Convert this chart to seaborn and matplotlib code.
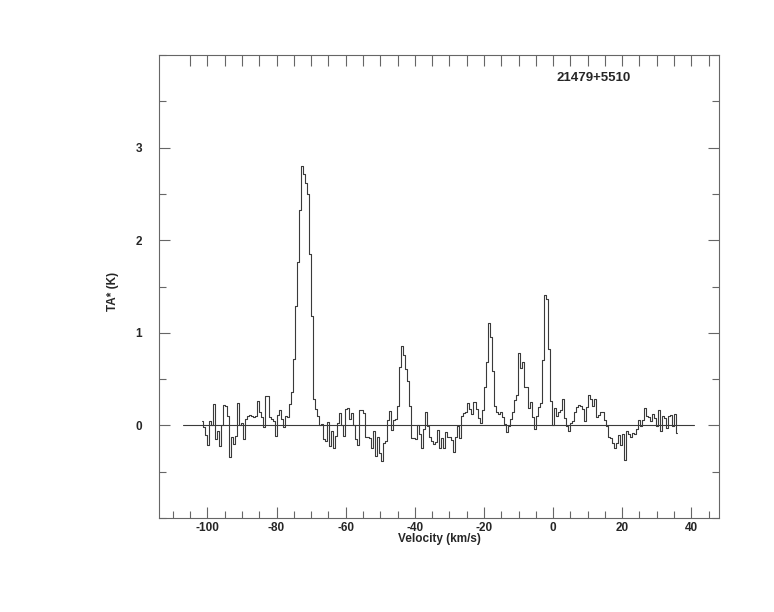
import numpy as np
import pandas as pd
import matplotlib
matplotlib.use("Agg")
import matplotlib.pyplot as plt
import seaborn as sns
from matplotlib.ticker import MultipleLocator

# ---- data ----
v_start = -101.61      # first channel centre (km/s)
dv = 0.58              # channel width (km/s)

ta_seg1 = [0.05, -0.02, -0.10, -0.21, 0.05, 0.00, 0.23, -0.15, -0.06, -0.22,
           0.00, 0.22, 0.21, 0.10, -0.34, -0.12, -0.20, -0.11, 0.24, 0.00,
           0.03, -0.15, 0.07, 0.10, 0.11, 0.10, 0.09, 0.10, 0.26, 0.14,
           0.09, -0.02, 0.32, 0.32, 0.09, 0.07, 0.05, -0.11, 0.11, 0.17,
           0.07, -0.02, 0.10, 0.09, 0.23, 0.36, 0.72, 1.29, 1.76, 2.33,
           2.80, 2.71, 2.62, 2.50, 1.85, 1.18, 0.28, 0.18, 0.10, 0.00,
           0.01, -0.15, -0.17, 0.04, -0.22, -0.06, -0.24, -0.11, 0.03, 0.13,
           0.00, -0.11, 0.18, 0.19, 0.07, 0.13, 0.00, -0.15]
ta_seg2 = [-0.21, 0.17, 0.17, 0.13, -0.12, -0.13, -0.14, -0.24, -0.06, -0.33,
           -0.12, -0.30, -0.38, -0.19, -0.17, 0.06, 0.16, -0.05, 0.06, 0.07,
           0.21, 0.63, 0.86, 0.76, 0.61, 0.48, 0.21, -0.14, -0.14, -0.15,
           0.00, -0.09, -0.24, -0.04, 0.15, -0.01, -0.12, -0.17, -0.20, -0.18,
           -0.05, -0.24, -0.14, -0.24, -0.07, -0.12, -0.12, -0.16, -0.29, -0.12,
           -0.01, -0.14, 0.10, 0.13, 0.14, 0.24, 0.18, 0.12, 0.25, 0.18,
           0.08, 0.03, 0.17, 0.41, 0.69, 1.11, 0.95, 0.59, 0.21, 0.15,
           0.12, 0.14, 0.09, 0.02, -0.07, -0.01, 0.07, 0.14, 0.27, 0.33]
ta_seg3 = [0.78, 0.62, 0.68, 0.42, 0.42, 0.19, 0.25, 0.09, -0.04, 0.10,
           0.20, 0.24, 0.71, 1.41, 1.36, 0.83, 0.26, 0.00, 0.19, 0.10,
           0.14, 0.17, 0.29, 0.08, -0.01, -0.06, 0.03, 0.05, 0.14, 0.20,
           0.22, 0.21, 0.18, 0.05, 0.20, 0.33, 0.28, 0.21, 0.29, 0.09,
           0.11, 0.15, 0.15, 0.06, -0.01, -0.13, -0.14, -0.19, -0.24, -0.19,
           -0.10, -0.21, -0.09, -0.37, -0.06, -0.09, -0.12, -0.08, -0.09, -0.04,
           0.06, -0.01, 0.06, 0.19, 0.10, 0.09, 0.05, 0.12, 0.08, -0.01,
           0.17, -0.06, 0.10, 0.08, -0.03, 0.10, 0.11, -0.01, 0.12, -0.08]

ta = np.array(ta_seg1 + ta_seg2 + ta_seg3)
velocity = v_start + dv * np.arange(len(ta))

baseline_x = [-107.0, 40.8]
baseline_y = [0.0, 0.0]
source_name = "21479+5510"

df = pd.DataFrame({"velocity": velocity, "ta": ta})

# ---- plot ----
sns.set_style("white")
plt.rcParams["font.family"] = ["Liberation Sans", "DejaVu Sans"]
plt.rcParams["axes.unicode_minus"] = False

fig = plt.figure(figsize=(7.74, 6.12), dpi=100)
ax = fig.add_axes([159 / 774, 94 / 612, 560 / 774, 463 / 612])

sns.lineplot(data=df, x="velocity", y="ta", ax=ax, drawstyle="steps-mid",
             color="#3a3a3a", linewidth=0.8, sort=True, estimator=None)
ax.plot(baseline_x, baseline_y, color="#3a3a3a", linewidth=0.8)

ax.set_xlim(-114, 48)
ax.set_ylim(-1, 4)

ax.xaxis.set_major_locator(MultipleLocator(20))
ax.xaxis.set_minor_locator(MultipleLocator(5))
ax.yaxis.set_major_locator(MultipleLocator(1))
ax.yaxis.set_minor_locator(MultipleLocator(0.5))
ax.set_yticks([0, 1, 2, 3])

ax.tick_params(axis="both", which="both", direction="in", color="#666666",
               width=0.8)
ax.tick_params(axis="x", which="major", length=8, pad=3, bottom=True, top=False)
ax.tick_params(axis="x", which="minor", length=5, bottom=True, top=False)
ax.tick_params(axis="y", which="major", length=8, pad=12, left=True, right=True)
ax.tick_params(axis="y", which="minor", length=5, left=True, right=True)

for lab in ax.get_xticklabels() + ax.get_yticklabels():
    lab.set_fontweight("bold")
    lab.set_fontsize(8.5)

secax = ax.secondary_xaxis("top")
secax.set_xticks(np.arange(-105, 46, 5))
secax.tick_params(direction="in", length=8, color="#666666", width=0.8,
                  labeltop=False)
secax.spines["top"].set_visible(False)

for sp in ax.spines.values():
    sp.set_color("#666666")
    sp.set_linewidth(0.8)

ax.set_xlabel("Velocity (km/s)", fontsize=8.5, fontweight="bold", labelpad=-0.5)
ax.set_ylabel("TA* (K)", fontsize=8.5, fontweight="bold")
ax.yaxis.set_label_coords(-0.072, 0.49)

ax.text(11.6, 3.75, source_name, ha="center", va="center", fontsize=9.5,
        fontweight="bold")

fig.savefig("out.png", dpi=100)
